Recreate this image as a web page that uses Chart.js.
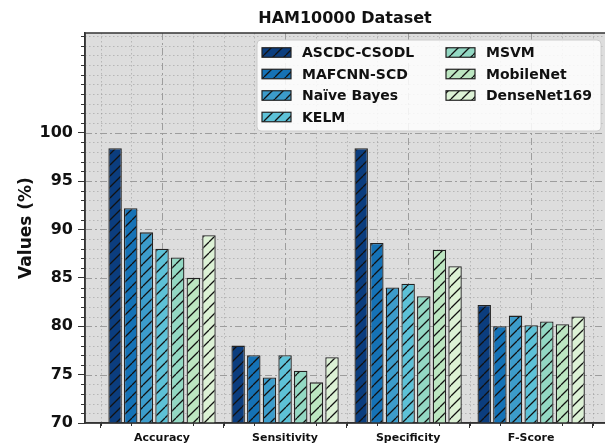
<!DOCTYPE html>
<html>
<head>
<meta charset="utf-8">
<script src="https://cdn.jsdelivr.net/npm/chart.js@4"></script>
<style>
  html, body { margin: 0; padding: 0; background: #ffffff; overflow: hidden; }
</style>
</head>
<body>
<canvas id="chart" width="605" height="446"></canvas>
<script>
// chart data
const categories = ["Accuracy", "Sensitivity", "Specificity", "F-Score"];
const seriesNames = ["ASCDC-CSODL", "MAFCNN-SCD", "Naïve Bayes", "KELM", "MSVM", "MobileNet", "DenseNet169"];
const ascdcCsodl = [98.4, 78.0, 98.4, 82.2];
const mafcnnScd = [92.2, 77.0, 88.6, 80.0];
const naiveBayes = [89.7, 74.7, 84.0, 81.1];
const kelm = [88.0, 77.0, 84.4, 80.1];
const msvm = [87.1, 75.4, 83.1, 80.5];
const mobileNet = [85.0, 74.2, 87.9, 80.2];
const denseNet169 = [89.4, 76.8, 86.2, 81.0];
const yTicks = [70, 75, 80, 85, 90, 95, 100];

const seriesValues = [ascdcCsodl, mafcnnScd, naiveBayes, kelm, msvm, mobileNet, denseNet169];
const seriesColors = ["#0b3d7e", "#1572b6", "#3c9ccb", "#5dc1d7", "#93d8c3", "#bce6c1", "#dcf1d5"];

const FONT = "'DejaVu Sans', sans-serif";

// "///" hatch on top of the bar colour
function hatch(color) {
  const s = 11;
  const c = document.createElement("canvas");
  c.width = s;
  c.height = s;
  const g = c.getContext("2d");
  g.fillStyle = color;
  g.fillRect(0, 0, s, s);
  g.strokeStyle = "#111111";
  g.lineWidth = 1.3;
  g.beginPath();
  for (let k = -1; k <= 1; k++) {
    g.moveTo(k * s, s);
    g.lineTo(k * s + s, 0);
  }
  g.stroke();
  return g.createPattern(c, "repeat");
}
const patterns = seriesColors.map(hatch);

const datasets = seriesNames.map((name, i) => ({
  label: name,
  data: seriesValues[i].map((v, j) => ({ x: j, y: v })),
  backgroundColor: patterns[i],
  borderColor: "#222222",
  borderWidth: 1.3,
  borderSkipped: false,
  categoryPercentage: 0.89,
  barPercentage: 0.86,
}));

// background, grid lines and minor ticks
const gridPlugin = {
  id: "gridPlugin",
  beforeDatasetsDraw(chart) {
    const { ctx, chartArea: a, scales } = chart;
    const x = scales.x, y = scales.y;
    ctx.save();
    ctx.beginPath();
    ctx.rect(a.left, a.top, a.right - a.left, a.bottom - a.top);
    ctx.clip();
    ctx.lineWidth = 0.9;

    // minor dotted lines
    ctx.strokeStyle = "rgba(140,140,140,0.55)";
    ctx.setLineDash([1.5, 2.5]);
    for (let v = 71; v <= 110; v++) {
      if (v % 5 === 0 && v <= 100) continue;
      const py = Math.round(y.getPixelForValue(v)) + 0.5;
      ctx.beginPath(); ctx.moveTo(a.left, py); ctx.lineTo(a.right, py); ctx.stroke();
    }
    for (let v = -0.5; v <= 3.6; v += 0.25) {
      if (Number.isInteger(v)) continue;
      const px = Math.round(x.getPixelForValue(v)) + 0.5;
      ctx.beginPath(); ctx.moveTo(px, a.top); ctx.lineTo(px, a.bottom); ctx.stroke();
    }

    // major dash-dot lines
    ctx.strokeStyle = "rgba(150,150,150,0.9)";
    ctx.lineWidth = 1;
    ctx.setLineDash([7, 3, 2, 3]);
    yTicks.forEach(v => {
      const py = Math.round(y.getPixelForValue(v)) + 0.5;
      ctx.beginPath(); ctx.moveTo(a.left, py); ctx.lineTo(a.right, py); ctx.stroke();
    });
    categories.forEach((c, i) => {
      const px = Math.round(x.getPixelForValue(i)) + 0.5;
      ctx.beginPath(); ctx.moveTo(px, a.top); ctx.lineTo(px, a.bottom); ctx.stroke();
    });
    ctx.restore();

    // minor tick marks
    ctx.save();
    ctx.strokeStyle = "#333333";
    ctx.lineWidth = 1;
    for (let v = 71; v <= 110; v++) {
      if (v % 5 === 0 && v <= 100) continue;
      const py = Math.round(y.getPixelForValue(v)) + 0.5;
      ctx.beginPath(); ctx.moveTo(a.left - 4, py); ctx.lineTo(a.left, py); ctx.stroke();
    }
    for (let v = -0.5; v <= 3.6; v += 0.25) {
      if (Number.isInteger(v)) continue;
      const px = Math.round(x.getPixelForValue(v)) + 0.5;
      ctx.beginPath(); ctx.moveTo(px, a.bottom); ctx.lineTo(px, a.bottom + 3); ctx.stroke();
    }
    ctx.restore();
  },
  beforeDraw(chart) {
    const { ctx, chartArea: a } = chart;
    ctx.save();
    ctx.fillStyle = "#dddddd";
    ctx.fillRect(a.left, a.top, a.right - a.left, a.bottom - a.top);
    ctx.restore();
  },
};

// spines, title and the two-column legend
const framePlugin = {
  id: "framePlugin",
  afterDraw(chart) {
    const { ctx, chartArea: a } = chart;
    ctx.save();
    ctx.strokeStyle = "#333333";
    ctx.lineWidth = 1.5;
    ctx.beginPath();
    ctx.moveTo(a.left, a.bottom);
    ctx.lineTo(a.left, a.top);
    ctx.lineTo(a.right, a.top);
    ctx.moveTo(a.left, a.bottom);
    ctx.lineTo(a.right, a.bottom);
    ctx.stroke();

    ctx.fillStyle = "#111111";
    ctx.font = "bold 16px " + FONT;
    ctx.textAlign = "center";
    ctx.textBaseline = "middle";
    ctx.fillText("HAM10000 Dataset", (a.left + a.right) / 2, 19);

    // legend box
    const bx = 257, by = 40, bw = 344, bh = 91, r = 4;
    ctx.beginPath();
    ctx.roundRect(bx, by, bw, bh, r);
    ctx.fillStyle = "rgba(255,255,255,0.85)";
    ctx.fill();
    ctx.strokeStyle = "#cccccc";
    ctx.lineWidth = 1;
    ctx.stroke();

    ctx.font = "bold 14px " + FONT;
    ctx.textAlign = "left";
    seriesNames.forEach((name, i) => {
      const col = i < 4 ? 0 : 1;
      const row = i < 4 ? i : i - 4;
      const px = col === 0 ? 262 : 446;
      const cy = 52.5 + row * 21.5;
      ctx.fillStyle = patterns[i];
      ctx.fillRect(px, cy - 4.75, 29, 9.5);
      ctx.strokeStyle = "#222222";
      ctx.lineWidth = 1.2;
      ctx.strokeRect(px, cy - 4.75, 29, 9.5);
      ctx.fillStyle = "#111111";
      ctx.fillText(name, px + 40, cy + 1);
    });
    ctx.restore();
  },
};

new Chart(document.getElementById("chart"), {
  type: "bar",
  data: { datasets },
  options: {
    responsive: false,
    animation: false,
    layout: { padding: { top: 33, left: 0, right: 0, bottom: 0 } },
    plugins: {
      legend: { display: false },
      title: { display: false },
      tooltip: { enabled: false },
    },
    scales: {
      x: {
        type: "linear",
        offset: false,
        min: -0.626,
        max: 3.6,
        afterBuildTicks: scale => {
          scale.ticks = categories.map((c, i) => ({ value: i }));
        },
        afterFit: scale => { scale.height = 23; },
        ticks: {
          color: "#111111",
          font: { family: FONT, size: 11, weight: "bold" },
          padding: 4,
          maxRotation: 0,
          autoSkip: false,
          callback: value => categories[value],
        },
        grid: {
          drawOnChartArea: false,
          drawTicks: true,
          tickLength: 5,
          tickColor: "#333333",
        },
        border: { display: true, color: "#333333", width: 1.5 },
      },
      y: {
        min: 70,
        max: 110.3,
        beginAtZero: false,
        afterBuildTicks: scale => {
          scale.ticks = yTicks.map(v => ({ value: v }));
        },
        afterFit: scale => { scale.width = 85; },
        ticks: {
          color: "#111111",
          font: { family: FONT, size: 16, weight: "bold" },
          padding: 5,
        },
        grid: {
          drawOnChartArea: false,
          drawTicks: true,
          tickLength: 7,
          tickColor: "#333333",
        },
        border: { display: true, color: "#333333", width: 1.5 },
        title: {
          display: true,
          text: "Values (%)",
          color: "#111111",
          font: { family: FONT, size: 17, weight: "bold" },
          padding: { top: 16, bottom: 0 },
        },
      },
    },
  },
  plugins: [gridPlugin, framePlugin],
});
</script>
</body>
</html>
